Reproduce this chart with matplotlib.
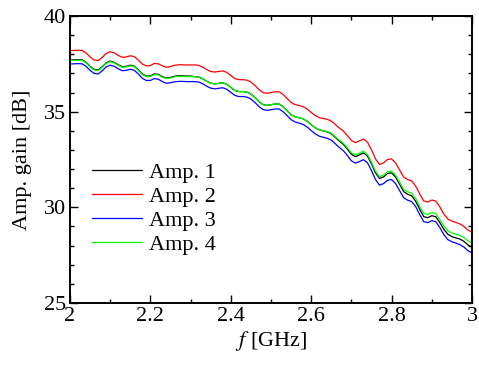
import numpy as np
import matplotlib
matplotlib.use("Agg")
import matplotlib.pyplot as plt
from matplotlib.ticker import MultipleLocator

# === Data (0.01 GHz steps) ===
freq_ghz = np.round(np.arange(2.0, 3.0001, 0.01), 2)

amp1 = [37.70, 37.71, 37.72, 37.71, 37.58, 37.37, 37.21, 37.18, 37.34, 37.55,
        37.64, 37.58, 37.45, 37.35, 37.37, 37.43, 37.38, 37.19, 36.97, 36.86,
        36.87, 36.97, 36.95, 36.83, 36.76, 36.79, 36.85, 36.88, 36.87, 36.86,
        36.86, 36.83, 36.81, 36.72, 36.59, 36.49, 36.45, 36.48, 36.51, 36.43,
        36.27, 36.11, 36.05, 36.05, 36.02, 35.92, 35.74, 35.53, 35.37, 35.33,
        35.36, 35.40, 35.40, 35.26, 35.05, 34.84, 34.73, 34.68, 34.62, 34.50,
        34.32, 34.16, 34.05, 33.99, 33.94, 33.84, 33.65, 33.46, 33.29, 33.04,
        32.77, 32.65, 32.74, 32.84, 32.68, 32.27, 31.80, 31.51, 31.59, 31.77,
        31.80, 31.58, 31.20, 30.82, 30.68, 30.60, 30.31, 29.89, 29.51, 29.46,
        29.56, 29.51, 29.20, 28.85, 28.59, 28.47, 28.40, 28.34, 28.22, 28.03,
        27.93]

amp2 = [38.19, 38.20, 38.21, 38.20, 38.07, 37.86, 37.70, 37.67, 37.83, 38.04,
        38.13, 38.07, 37.94, 37.84, 37.86, 37.92, 37.88, 37.70, 37.49, 37.39,
        37.41, 37.52, 37.50, 37.39, 37.32, 37.36, 37.42, 37.45, 37.45, 37.44,
        37.44, 37.44, 37.42, 37.33, 37.20, 37.10, 37.07, 37.10, 37.13, 37.05,
        36.89, 36.73, 36.67, 36.67, 36.65, 36.55, 36.37, 36.16, 36.00, 35.96,
        36.00, 36.04, 36.04, 35.90, 35.69, 35.48, 35.37, 35.32, 35.26, 35.14,
        34.96, 34.80, 34.69, 34.64, 34.60, 34.51, 34.33, 34.15, 33.99, 33.75,
        33.49, 33.38, 33.47, 33.57, 33.41, 33.00, 32.53, 32.24, 32.32, 32.50,
        32.53, 32.32, 31.95, 31.58, 31.45, 31.38, 31.11, 30.70, 30.33, 30.28,
        30.38, 30.33, 30.02, 29.65, 29.39, 29.28, 29.21, 29.13, 29.00, 28.81,
        28.71]

amp3 = [37.49, 37.50, 37.51, 37.50, 37.37, 37.16, 37.00, 36.97, 37.13, 37.34,
        37.43, 37.37, 37.24, 37.14, 37.16, 37.22, 37.16, 36.97, 36.74, 36.63,
        36.63, 36.73, 36.69, 36.57, 36.48, 36.51, 36.56, 36.58, 36.58, 36.57,
        36.57, 36.57, 36.55, 36.46, 36.33, 36.23, 36.19, 36.22, 36.25, 36.17,
        36.01, 35.85, 35.79, 35.79, 35.76, 35.66, 35.48, 35.27, 35.11, 35.07,
        35.10, 35.14, 35.14, 35.00, 34.79, 34.58, 34.46, 34.40, 34.33, 34.20,
        34.01, 33.84, 33.72, 33.66, 33.61, 33.51, 33.32, 33.13, 32.96, 32.71,
        32.43, 32.31, 32.39, 32.49, 32.33, 31.92, 31.45, 31.16, 31.24, 31.42,
        31.45, 31.24, 30.87, 30.50, 30.37, 30.30, 30.03, 29.62, 29.25, 29.20,
        29.30, 29.25, 28.94, 28.57, 28.31, 28.20, 28.13, 28.05, 27.92, 27.73,
        27.63]

amp4 = [37.67, 37.68, 37.69, 37.68, 37.55, 37.34, 37.18, 37.15, 37.31, 37.52,
        37.61, 37.55, 37.42, 37.32, 37.34, 37.40, 37.35, 37.16, 36.94, 36.83,
        36.84, 36.94, 36.92, 36.80, 36.73, 36.76, 36.82, 36.85, 36.84, 36.83,
        36.83, 36.83, 36.81, 36.72, 36.59, 36.49, 36.45, 36.48, 36.51, 36.43,
        36.27, 36.11, 36.05, 36.05, 36.02, 35.92, 35.74, 35.53, 35.37, 35.33,
        35.36, 35.40, 35.40, 35.26, 35.05, 34.84, 34.73, 34.68, 34.62, 34.50,
        34.32, 34.16, 34.05, 34.00, 33.96, 33.87, 33.69, 33.51, 33.35, 33.11,
        32.85, 32.74, 32.83, 32.93, 32.77, 32.36, 31.89, 31.60, 31.68, 31.86,
        31.89, 31.68, 31.31, 30.94, 30.81, 30.74, 30.46, 30.05, 29.68, 29.63,
        29.73, 29.68, 29.37, 29.03, 28.77, 28.66, 28.59, 28.54, 28.42, 28.24,
        28.14]

labels = ['Amp. 1', 'Amp. 2', 'Amp. 3', 'Amp. 4']
colors = ['black', '#ff0000', '#0000ff', '#00ff00']

plt.rcParams['font.family'] = ['Liberation Serif', 'DejaVu Serif']
plt.rcParams['mathtext.fontset'] = 'stix'

fig = plt.figure(figsize=(4.79, 3.65), dpi=100)
ax = fig.add_axes([0.1461, 0.1699, 0.8393, 0.7863])

for y, lab, c in zip([amp1, amp2, amp3, amp4], labels, colors):
    ax.plot(freq_ghz, y, color=c, lw=0.9, label=lab)

ax.set_xlim(2, 3)
ax.set_ylim(25, 40)
ax.xaxis.set_minor_locator(MultipleLocator(0.1))
ax.yaxis.set_major_locator(MultipleLocator(5))
ax.yaxis.set_minor_locator(MultipleLocator(1))
ax.set_xticks([2, 2.2, 2.4, 2.6, 2.8, 3])
ax.set_xticklabels(['2', '2.2', '2.4', '2.6', '2.8', '3'])

ax.tick_params(which='both', direction='in', top=True, right=True,
               labelsize=16, width=1.0, pad=3)
ax.tick_params(which='major', length=6)
ax.tick_params(which='minor', length=3)
for sp in ax.spines.values():
    sp.set_linewidth(1.4)

ax.set_xlabel(r'$f$ [GHz]', fontsize=16, labelpad=2)
ax.set_ylabel('Amp. gain [dB]', fontsize=16, labelpad=8)

ax.legend(loc='upper left', bbox_to_anchor=(0.055, 0.49), frameon=False,
          fontsize=16, handlelength=2.25, handletextpad=0.3,
          labelspacing=0.16, borderpad=0, borderaxespad=0)

fig.savefig('out.png', dpi=100)
